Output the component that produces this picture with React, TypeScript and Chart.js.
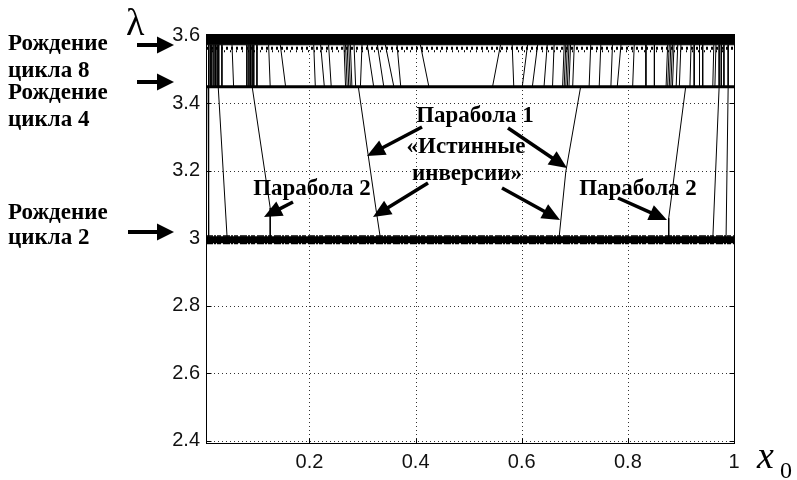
import React, { useEffect, useRef } from 'react';
import { Chart, registerables } from 'chart.js';

Chart.register(...registerables);

// ---- axes ----
const X_MIN = 0.005;
const X_MAX = 1;
const Y_MIN = 2.394;
const Y_MAX = 3.605;
const xTickValues = [0.2, 0.4, 0.6, 0.8, 1];
const yTickValues = [2.4, 2.6, 2.8, 3, 3.2, 3.4, 3.6];

// ---- horizontal structures (λ values) ----
const cycle2Lambda = 2.996;
const cycle2FuzzLambdas = [2.985, 3.007];
const cycle4Lambda = 3.449;
const cycle8Lambda = 3.573;
const chaosRowLambdas = [3.563, 3.554];

// ---- near-vertical lines between cycle 4 and cycle 8 ----
const upperTopLambda = 3.573;
const upperTopX = [
  0.010, 0.013, 0.016, 0.020, 0.023, 0.026, 0.029, 0.035, 0.054, 0.082, 0.086, 0.089, 0.092, 0.095, 0.101,
  0.123, 0.145, 0.208, 0.221, 0.236, 0.265, 0.268, 0.271, 0.274, 0.277, 0.284, 0.299,
  0.309, 0.328, 0.343, 0.365, 0.409, 0.560, 0.582, 0.611, 0.630, 0.648,
  0.661, 0.680, 0.683, 0.686, 0.689, 0.692, 0.699, 0.730, 0.749, 0.771, 0.787, 0.812,
  0.834, 0.850, 0.875, 0.878, 0.881, 0.884, 0.887, 0.894, 0.900, 0.919, 0.925, 0.935,
  0.941, 0.962, 0.966, 0.972, 0.976, 0.981, 0.989,
];
const upperBottomX = [
  0.010, 0.013, 0.016, 0.020, 0.023, 0.026, 0.029, 0.035, 0.057, 0.082, 0.086, 0.089, 0.092, 0.095, 0.101,
  0.126, 0.155, 0.211, 0.228, 0.241, 0.268, 0.271, 0.274, 0.277, 0.280, 0.287, 0.296,
  0.321, 0.340, 0.359, 0.372, 0.425, 0.545, 0.585, 0.601, 0.620, 0.642,
  0.658, 0.677, 0.680, 0.683, 0.686, 0.689, 0.696, 0.727, 0.746, 0.768, 0.780, 0.809,
  0.834, 0.850, 0.872, 0.875, 0.878, 0.881, 0.884, 0.891, 0.897, 0.917, 0.925, 0.935,
  0.941, 0.960, 0.964, 0.972, 0.976, 0.981, 0.989,
];

// ---- lines between cycle 2 and cycle 4 ----
const edgeLinesTopX = [0.009, 0.028, 0.972, 0.989];
const edgeLinesBottomX = [0.010, 0.045, 0.960, 0.985];
const parabola2LeftX = [0.092, 0.126, 0.126];
const parabola2LeftL = [3.449, 3.09, 2.996];
const parabola1LeftX = [0.292, 0.325, 0.334];
const parabola1LeftL = [3.449, 3.09, 2.996];
const parabola1RightX = [0.711, 0.683, 0.670];
const parabola1RightL = [3.449, 3.197, 2.996];
const parabola2RightX = [0.909, 0.877, 0.877];
const parabola2RightL = [3.449, 3.06, 2.996];

// ---- annotation texts ----
const leftLabels = [
  { text: 'Рождение', x: 8, y: 50 },
  { text: 'цикла 8', x: 8, y: 77 },
  { text: 'Рождение', x: 8, y: 99 },
  { text: 'цикла 4', x: 8, y: 126 },
  { text: 'Рождение', x: 8, y: 219 },
  { text: 'цикла 2', x: 8, y: 244 },
];
const leftArrows = [
  { x1: 137, y1: 45, x2: 174, y2: 45 },
  { x1: 137, y1: 82, x2: 174, y2: 82 },
  { x1: 128, y1: 232, x2: 174, y2: 232 },
];
const plotLabels = [
  { text: 'Парабола 1', x: 475, y: 122 },
  { text: '«Истинные', x: 466, y: 153 },
  { text: 'инверсии»', x: 467, y: 180 },
  { text: 'Парабола 2', x: 312, y: 195 },
  { text: 'Парабола 2', x: 638, y: 195 },
];
const plotArrows = [
  { x1: 422, y1: 127, x2: 367, y2: 156 },
  { x1: 508, y1: 128, x2: 567, y2: 168 },
  { x1: 428, y1: 183, x2: 373, y2: 217 },
  { x1: 502, y1: 188, x2: 560, y2: 220 },
  { x1: 293, y1: 202, x2: 264, y2: 217 },
  { x1: 618, y1: 198, x2: 667, y2: 220 },
];

const BLACK = '#000';

function hLine(y: number, width: number, dash?: number[], fillEnd = false) {
  return {
    data: [{ x: X_MIN, y }, { x: X_MAX, y }],
    borderColor: BLACK,
    backgroundColor: BLACK,
    borderWidth: width,
    borderDash: dash || [],
    pointRadius: 0,
    pointHoverRadius: 0,
    showLine: true,
    fill: fillEnd ? 'end' : false,
  };
}

function polyline(xs: number[], ls: number[], width = 1) {
  return {
    data: xs.map((x, i) => ({ x, y: ls[i] })),
    borderColor: BLACK,
    borderWidth: width,
    pointRadius: 0,
    pointHoverRadius: 0,
    showLine: true,
    fill: false,
  };
}

function drawArrow(ctx: CanvasRenderingContext2D, a: { x1: number; y1: number; x2: number; y2: number }, shaft: number, headLen: number, headHalf: number) {
  const ang = Math.atan2(a.y2 - a.y1, a.x2 - a.x1);
  const bx = a.x2 - Math.cos(ang) * headLen;
  const by = a.y2 - Math.sin(ang) * headLen;
  ctx.save();
  ctx.strokeStyle = BLACK;
  ctx.fillStyle = BLACK;
  ctx.lineWidth = shaft;
  ctx.beginPath();
  ctx.moveTo(a.x1, a.y1);
  ctx.lineTo(bx + Math.cos(ang) * 2, by + Math.sin(ang) * 2);
  ctx.stroke();
  ctx.beginPath();
  ctx.moveTo(a.x2, a.y2);
  ctx.lineTo(bx + Math.sin(ang) * headHalf, by - Math.cos(ang) * headHalf);
  ctx.lineTo(bx - Math.sin(ang) * headHalf, by + Math.cos(ang) * headHalf);
  ctx.closePath();
  ctx.fill();
  ctx.restore();
}

const gridPlugin = {
  id: 'matlabGrid',
  beforeDatasetsDraw(chart: any) {
    const { ctx, chartArea: ca, scales } = chart;
    ctx.save();
    ctx.strokeStyle = '#333';
    ctx.lineWidth = 1;
    ctx.setLineDash([1, 3]);
    xTickValues.forEach((v) => {
      const px = Math.round(scales.x.getPixelForValue(v)) + 0.5;
      ctx.beginPath();
      ctx.moveTo(px, ca.top);
      ctx.lineTo(px, ca.bottom);
      ctx.stroke();
    });
    yTickValues.forEach((v) => {
      const py = Math.round(scales.y.getPixelForValue(v)) + 0.5;
      ctx.beginPath();
      ctx.moveTo(ca.left, py);
      ctx.lineTo(ca.right, py);
      ctx.stroke();
    });
    ctx.restore();
  },
  afterDatasetsDraw(chart: any) {
    const { ctx, chartArea: ca, scales } = chart;
    ctx.save();
    ctx.strokeStyle = BLACK;
    ctx.lineWidth = 1;
    ctx.setLineDash([]);
    const L = Math.round(ca.left) + 0.5;
    const R = Math.round(ca.right) + 0.5;
    const T = Math.round(ca.top) + 0.5;
    const B = Math.round(ca.bottom) + 0.5;
    ctx.strokeRect(L, T, R - L, B - T);
    const tl = 5;
    xTickValues.forEach((v) => {
      const px = Math.round(scales.x.getPixelForValue(v)) + 0.5;
      ctx.beginPath();
      ctx.moveTo(px, B);
      ctx.lineTo(px, B - tl);
      ctx.moveTo(px, T);
      ctx.lineTo(px, T + tl);
      ctx.stroke();
    });
    yTickValues.forEach((v) => {
      const py = Math.round(scales.y.getPixelForValue(v)) + 0.5;
      ctx.beginPath();
      ctx.moveTo(L, py);
      ctx.lineTo(L + tl, py);
      ctx.moveTo(R, py);
      ctx.lineTo(R - tl, py);
      ctx.stroke();
    });
    ctx.restore();
  },
  afterDraw(chart: any) {
    const { ctx } = chart;
    ctx.save();
    ctx.fillStyle = BLACK;
    ctx.textBaseline = 'alphabetic';
    ctx.font = 'bold 23px "Liberation Serif", "Times New Roman", serif';
    ctx.textAlign = 'left';
    leftLabels.forEach((l) => ctx.fillText(l.text, l.x, l.y));
    ctx.textAlign = 'center';
    plotLabels.forEach((l) => ctx.fillText(l.text, l.x, l.y));
    leftArrows.forEach((a) => drawArrow(ctx, a, 4, 17, 8.5));
    plotArrows.forEach((a) => drawArrow(ctx, a, 3.5, 18, 8));
    // axis symbols
    ctx.textAlign = 'left';
    ctx.font = '38px "Liberation Serif", "Times New Roman", serif';
    ctx.fillText('λ', 126, 35);
    ctx.font = 'italic 38px "Liberation Serif", "Times New Roman", serif';
    ctx.fillText('x', 757, 468);
    ctx.font = '24px "Liberation Serif", "Times New Roman", serif';
    ctx.fillText('0', 780, 478);
    ctx.restore();
  },
};

export default function App() {
  const canvasRef = useRef<HTMLCanvasElement | null>(null);

  useEffect(() => {
    if (!canvasRef.current) return;
    const datasets: any[] = [];
    // cycle 8 black band up to the top
    datasets.push(hLine(cycle8Lambda, 1, undefined, true));
    chaosRowLambdas.forEach((l, i) => datasets.push(hLine(l, i === 0 ? 3 : 2, i === 0 ? [2, 3] : [1, 5])));
    // vertical lines in the upper zone
    upperTopX.forEach((xt, i) => datasets.push(polyline([xt, upperBottomX[i]], [upperTopLambda, cycle4Lambda])));
    // lines between cycle 2 and cycle 4
    edgeLinesTopX.forEach((xt, i) => datasets.push(polyline([xt, edgeLinesBottomX[i]], [cycle4Lambda, cycle2Lambda])));
    datasets.push(polyline(parabola2LeftX, parabola2LeftL));
    datasets.push(polyline(parabola1LeftX, parabola1LeftL));
    datasets.push(polyline(parabola1RightX, parabola1RightL));
    datasets.push(polyline(parabola2RightX, parabola2RightL));
    // cycle 4 line
    datasets.push(hLine(cycle4Lambda, 3));
    // cycle 2 band
    datasets.push(hLine(cycle2Lambda, 7));
    cycle2FuzzLambdas.forEach((l) => datasets.push(hLine(l, 1.5, [7, 1, 2, 1, 4, 2])));

    const tickFont = { family: '"Liberation Sans", Arial, sans-serif', size: 20 };
    const chart = new Chart(canvasRef.current, {
      type: 'scatter',
      data: { datasets },
      options: {
        animation: false,
        responsive: true,
        maintainAspectRatio: false,
        layout: { padding: { top: 34, right: 63, left: 0, bottom: 0 } },
        plugins: { legend: { display: false }, tooltip: { enabled: false } },
        events: [],
        scales: {
          x: {
            type: 'linear',
            min: X_MIN,
            max: X_MAX,
            grid: { display: false, drawTicks: false },
            border: { display: false },
            afterBuildTicks: (s: any) => {
              s.ticks = xTickValues.map((v) => ({ value: v }));
            },
            afterFit: (s: any) => {
              s.height = 37;
            },
            ticks: {
              autoSkip: false,
              maxRotation: 0,
              padding: 7,
              color: '#111',
              font: tickFont,
              callback: (v: any) => String(v),
            },
          },
          y: {
            type: 'linear',
            min: Y_MIN,
            max: Y_MAX,
            grid: { display: false, drawTicks: false },
            border: { display: false },
            afterBuildTicks: (s: any) => {
              s.ticks = yTickValues.map((v) => ({ value: v }));
            },
            afterFit: (s: any) => {
              s.width = 206;
            },
            ticks: {
              autoSkip: false,
              padding: 6,
              color: '#111',
              font: tickFont,
              callback: (v: any) => String(v),
            },
          },
        },
      },
      plugins: [gridPlugin],
    } as any);
    return () => chart.destroy();
  }, []);

  return (
    <div style={{ position: 'absolute', left: 0, top: 0, width: 797, height: 480, background: '#fff' }}>
      <canvas ref={canvasRef} />
    </div>
  );
}
